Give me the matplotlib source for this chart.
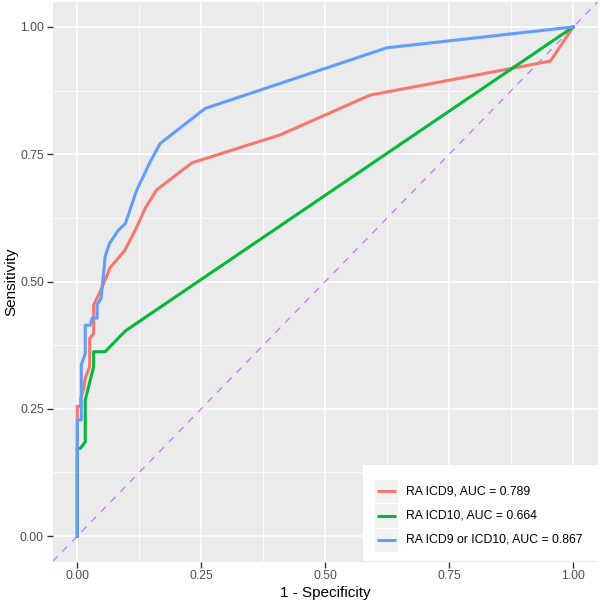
import matplotlib.pyplot as plt
from matplotlib.patches import Rectangle

plt.rcParams['font.family'] = ['Liberation Sans', 'DejaVu Sans']

# ROC curve points (1 - specificity, sensitivity)
icd9_x = [0, 0, 0.007, 0.007, 0.013, 0.016, 0.025, 0.025, 0.033, 0.033, 0.046,
          0.056, 0.063, 0.065, 0.095, 0.117, 0.137, 0.16, 0.231, 0.409, 0.59, 0.954, 1]
icd9_y = [0, 0.255, 0.255, 0.27, 0.29, 0.31, 0.333, 0.388, 0.398, 0.454, 0.48,
          0.503, 0.519, 0.526, 0.56, 0.601, 0.644, 0.68, 0.733, 0.788, 0.866, 0.933, 1]

icd10_x = [0, 0, 0.006, 0.016, 0.016, 0.033, 0.033, 0.056, 0.097, 1]
icd10_y = [0, 0.172, 0.172, 0.185, 0.267, 0.333, 0.362, 0.362, 0.403, 1]

both_x = [0, 0, 0.008, 0.008, 0.016, 0.016, 0.026, 0.03, 0.04, 0.04, 0.048, 0.055,
          0.056, 0.065, 0.083, 0.097, 0.12, 0.147, 0.167, 0.258, 0.624, 1]
both_y = [0, 0.228, 0.228, 0.336, 0.359, 0.414, 0.414, 0.428, 0.428, 0.454, 0.467, 0.536,
          0.549, 0.575, 0.601, 0.614, 0.68, 0.735, 0.771, 0.84, 0.959, 1]

labels = ['RA ICD9, AUC = 0.789', 'RA ICD10, AUC = 0.664', 'RA ICD9 or ICD10, AUC = 0.867']
colors = ['#F8766D', '#00BA38', '#619CFF']
ticks = [0, 0.25, 0.5, 0.75, 1.0]
tick_labels = ['0.00', '0.25', '0.50', '0.75', '1.00']

fig = plt.figure(figsize=(6, 6.01), dpi=100)
ax = fig.add_axes([0.0875, 0.0657, 0.9092, 0.9318])
ax.set_facecolor('#EBEBEB')
for s in ax.spines.values():
    s.set_visible(False)

ax.set_xlim(-0.05, 1.05)
ax.set_ylim(-0.05, 1.05)
ax.set_xticks(ticks)
ax.set_xticklabels(tick_labels)
ax.set_yticks(ticks)
ax.set_yticklabels(tick_labels)
ax.set_xticks([0.125, 0.375, 0.625, 0.875], minor=True)
ax.set_yticks([0.125, 0.375, 0.625, 0.875], minor=True)
ax.tick_params(which='major', length=4, width=1, color='#333333', labelcolor='#4D4D4D',
               labelsize=8.8, pad=2.2)
ax.tick_params(which='minor', length=0)
ax.grid(which='major', color='white', linewidth=1.1)
ax.grid(which='minor', color='white', linewidth=0.55)
ax.set_axisbelow(True)

ax.axline((0, 0), slope=1, color='#C77CFF', linewidth=1.0, linestyle=(0, (5, 5)), zorder=2)

ax.plot(icd9_x, icd9_y, color=colors[0], linewidth=2.2, zorder=3)
ax.plot(icd10_x, icd10_y, color=colors[1], linewidth=2.2, zorder=3)
ax.plot(both_x, both_y, color=colors[2], linewidth=2.2, zorder=3)

ax.set_xlabel('1 - Specificity', fontsize=11, color='black', labelpad=3)
ax.set_ylabel('Sensitivity', fontsize=11, color='black', labelpad=1)

# legend box in the bottom-right corner of the panel
lg = fig.add_axes([363 / 600, 40 / 601, 235 / 600, 96 / 601])
lg.set_xlim(0, 235)
lg.set_ylim(96, 0)
lg.axis('off')
lg.add_patch(Rectangle((0, 0), 235, 96, facecolor='white', edgecolor='none'))
rows = [(14, 38), (38, 63), (63, 87)]
for (y0, y1), lab, col in zip(rows, labels, colors):
    lg.add_patch(Rectangle((11, y0), 24, y1 - y0, facecolor='#F2F2F2', edgecolor='white', linewidth=0.8))
    yc = (y0 + y1) / 2
    lg.plot([13.5, 33], [yc, yc], color=col, linewidth=2.2, solid_capstyle='butt')
    lg.text(43, yc, lab, fontsize=8.8, color='black', va='center', ha='left')

fig.savefig('out.png', dpi=100)
